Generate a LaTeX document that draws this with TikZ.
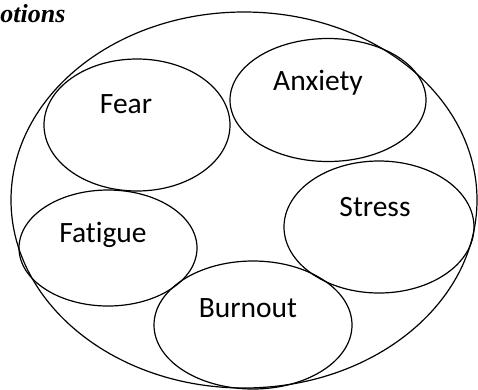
\documentclass[tikz,border=0pt]{standalone}
\usepackage{fontspec}
\setmainfont{Liberation Serif}
\newfontfamily\calib[Ligatures={NoCommon,NoRare}]{Carlito}
\usetikzlibrary{positioning,shapes.geometric}

\begin{document}
\begin{tikzpicture}[x=1pt, y=-1pt, line width=1.2pt, every node/.style={font=\calib\fontsize{29.5}{34}\selectfont}, emo/.style={draw, ellipse, inner sep=0pt}, tag/.style={inner sep=0pt}]
\useasboundingbox (0,0) rectangle (478,389);
\node[tag, anchor=base east, font=\bfseries\itshape\fontsize{26}{30}\selectfont] (title) at (66,22) {Emotions};
\node[emo, minimum width=466pt, minimum height=376pt] (all) at (244,200) {};
\node[emo, minimum width=186pt, minimum height=132pt] (fear) at (137,125) {};
\node[emo, minimum width=196pt, minimum height=123pt] (anxiety) at (328,100) {};
\node[emo, minimum width=190pt, minimum height=132pt] (stress) at (379,227) {};
\node[emo, minimum width=178pt, minimum height=116pt] (fatigue) at (108,248) {};
\node[emo, minimum width=198pt, minimum height=128pt] (burnout) at (253,325) {};
\node[tag] (fearT) at (126,104) {Fear};
\node[tag] (anxietyT) at (318,83) {Anxiety};
\node[tag] (stressT) at (375,207) {Stress};
\node[tag, anchor=base] (fatigueT) at (103,242) {Fatigue};
\node[tag] (burnoutT) at (248,308) {Burnout};
\end{tikzpicture}
\end{document}
